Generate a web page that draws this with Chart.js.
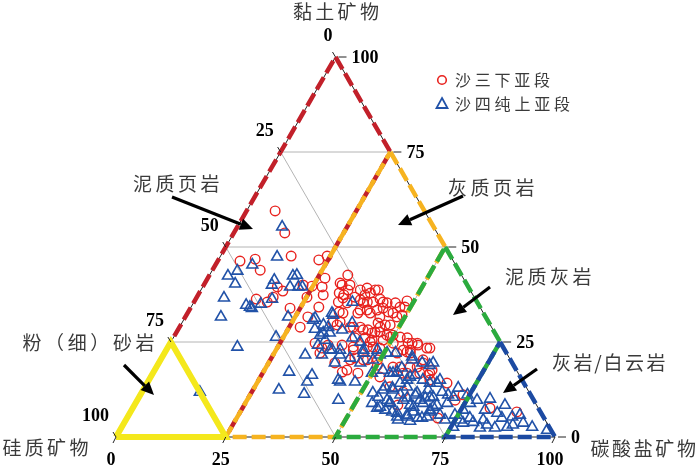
<!DOCTYPE html>
<html>
<head>
<meta charset="utf-8">
<script src="https://cdn.jsdelivr.net/npm/chart.js@4/dist/chart.umd.min.js"></script>
<style>
  body { margin: 0; background: #fff; }
  canvas { display: block; }
</style>
</head>
<body>
<canvas id="ternChart" width="700" height="475"></canvas>
<script>
// ternary values: clay % and carbonate % (silica = rest)
const redClay = [59.5, 53.7, 46.3, 46.8, 43.9, 47.6, 39.5, 38.4, 36.3, 35.5, 36.8, 46.6, 39.7, 34.2, 28.9, 41.8, 47.6, 33.9, 31.6, 22.1, 19.5, 24.2,
  42.6, 40.0, 40.0, 39.5, 37.4, 37.9, 37.4, 39.2, 37.9, 38.7, 38.7, 37.4, 36.1, 35.5, 35.5, 36.3, 35.5, 35.3, 35.3, 34.2, 35.8, 35.5, 35.3, 32.9, 32.6,
  33.4, 33.4, 33.4, 33.9, 32.9, 32.6, 32.1, 31.6, 30.0, 29.5, 29.5, 27.6, 27.6, 28.2, 28.9, 28.9, 26.1, 25.5, 25.5, 26.8, 30.3, 30.3, 26.1, 23.7, 23.7,
  23.4, 26.8, 26.3, 24.7, 26.1, 24.7, 24.7, 22.9, 22.1, 23.4, 22.1, 23.4, 24.7, 36.8, 40.0,
  24.2, 20.8, 20.3, 17.6, 17.1, 16.8, 23.7, 18.9, 22.9, 24.2, 20.3, 18.4, 18.4, 13.2, 8.4, 16.8, 15.8,
  23.4, 19.5, 17.6, 16.3, 14.2, 9.7, 11.1, 5.0, 7.6, 6.6,
  40.5, 38.7, 38.7, 36.6, 36.8, 35.3, 34.2, 32.6, 32.6, 31.6, 28.9, 27.4, 28.2, 25.0, 26.3, 24.7, 22.4, 22.9, 20.3, 20.3, 20.3,
  18.4, 16.8, 18.4, 16.8, 16.8, 11.8, 15.0, 29.5, 28.9];
const redCarb = [6.5, 11.6, 5.1, 8.3, 10.9, 16.1, 17.0, 18.8, 13.8, 16.7, 17.4, 22.9, 24.8, 29.1, 27.5, 26.7, 24.3, 22.7, 27.9, 35.4, 40.1, 36.2,
  31.5, 31.5, 33.3, 27.2, 28.5, 31.9, 33.2, 37.6, 39.0, 39.7, 40.4, 38.0, 37.6, 39.5, 40.8, 42.0, 43.1, 44.1, 46.0, 47.6, 48.4, 32.9, 35.0, 34.4, 35.4,
  38.9, 40.5, 42.8, 43.9, 45.6, 46.8, 49.1, 44.3, 44.7, 46.6, 47.7, 45.2, 46.3, 43.3, 41.2, 39.6, 43.7, 45.6, 48.1, 48.3, 35.9, 34.3, 41.4, 42.2, 45.4,
  48.4, 49.7, 51.6, 50.8, 53.3, 54.2, 56.3, 54.0, 56.0, 59.1, 53.0, 35.2, 33.0, 25.1, 22.6,
  39.4, 44.0, 47.1, 43.8, 43.0, 46.7, 46.7, 50.1, 55.6, 56.7, 59.8, 59.4, 55.5, 55.8, 60.0, 57.9, 52.2,
  59.8, 60.2, 63.2, 63.0, 68.3, 72.4, 73.5, 70.8, 81.4, 88.0,
  30.8, 33.5, 36.3, 33.4, 36.0, 38.7, 48.7, 38.8, 41.6, 48.2, 45.7, 44.6, 42.2, 45.4, 49.3, 55.1, 55.1, 42.6, 43.2, 46.2, 49.4,
  53.9, 57.0, 57.8, 60.8, 63.1, 59.5, 64.0, 35.6, 38.9];

const blueClay = [55.3, 47.4, 45.3, 43.7, 42.4, 40.3, 41.3, 40.0, 42.4, 42.6, 39.5, 39.5, 36.6, 34.7, 34.2, 33.9, 35.0, 36.3, 31.6, 31.6, 26.3, 23.7,
  31.3, 28.4, 17.1, 16.3, 11.3, 12.4, 14.5, 11.8, 24.2, 27.4, 28.9, 32.1, 21.6, 22.9, 39.5, 30.8, 29.5, 32.6, 35.5, 30.0, 28.2, 27.4, 26.8, 26.1,
  25.0, 22.9, 22.9, 22.1, 22.9, 22.1, 21.1, 25.5, 21.6, 21.6, 20.8, 14.5, 14.5, 19.5, 16.8, 21.6, 22.1, 16.8, 17.1, 15.0, 16.3, 15.0, 14.2,
  9.7, 8.9, 7.9, 10.5, 7.1, 6.6, 9.7, 5.3, 5.3, 6.6, 5.0, 5.3, 11.1, 10.3, 11.1, 9.7, 12.4, 8.4, 12.4, 12.9, 11.6,
  19.5, 14.2, 11.8, 10.5, 10.3, 8.9, 10.5, 12.9, 11.1, 9.7, 10.0, 8.9, 5.0, 7.1, 4.5, 5.8, 4.5, 3.7, 5.0, 3.9, 4.5, 3.2, 6.3, 5.0, 5.3, 5.8,
  3.2, 3.7, 2.6, 1.8, 2.6, 2.4, 2.4, 2.6, 4.5, 4.2, 7.6, 9.2, 6.6, 8.4, 15.0, 11.1,
  22.9, 19.5, 15.0, 20.3, 20.3, 19.5, 18.9, 17.6, 16.8, 18.2, 15.8, 14.2, 13.2, 12.4, 13.2, 11.6, 10.5, 8.9, 9.7, 7.9, 8.9, 7.9,
  6.3, 5.8, 7.1, 7.1, 8.4, 5.8];
const blueCarb = [10.2, 13.0, 8.4, 5.8, 4.3, 7.0, 15.4, 15.5, 19.1, 19.9, 21.8, 19.9, 6.3, 12.3, 13.4, 14.0, 15.5, 17.4, 8.1, 23.4, 23.3, 15.8,
  29.7, 31.1, 30.9, 36.5, 37.2, 30.9, 36.3, 13.2, 33.9, 33.5, 33.9, 33.4, 36.1, 37.8, 22.7, 29.5, 32.5, 32.9, 36.1, 38.8, 37.4, 35.0, 33.1, 40.8,
  43.1, 37.3, 39.6, 45.3, 48.1, 50.7, 56.9, 34.9, 32.3, 40.2, 42.9, 43.8, 47.2, 45.9, 49.9, 49.3, 52.6, 54.0, 55.5, 58.8, 60.0, 62.4, 57.6,
  45.8, 53.9, 56.2, 54.5, 57.8, 59.6, 56.9, 61.4, 63.7, 64.4, 66.3, 68.2, 59.2, 61.2, 62.6, 64.4, 64.9, 62.8, 54.6, 56.5, 52.7,
  62.5, 66.0, 68.4, 67.0, 65.3, 71.0, 71.6, 71.5, 74.5, 77.4, 80.2, 76.2, 67.2, 68.0, 72.7, 74.3, 76.2, 77.2, 78.1, 79.4, 81.4, 82.9, 83.7, 85.4, 87.6, 89.1,
  88.8, 90.9, 93.5, 97.3, 87.8, 85.1, 81.7, 75.5, 62.0, 64.9, 55.7, 57.8, 68.2, 68.9, 66.3, 70.1,
  44.9, 40.1, 43.1, 48.4, 57.3, 60.0, 62.0, 52.0, 54.7, 56.0, 59.1, 64.4, 54.7, 56.9, 59.7, 62.8, 66.3, 58.0, 60.6, 63.8, 65.5, 68.3,
  60.9, 63.4, 75.5, 80.5, 84.4, 70.9];

// rock-type fields as [clay, carbonate] corners
const fieldClayShale = [[100, 0], [75, 25], [0, 25], [0, 0]];
const fieldLimyShale = [[75, 25], [50, 50], [0, 50], [0, 25]];
const fieldMarl = [[50, 50], [25, 75], [0, 75], [0, 50]];
const fieldLimestone = [[25, 75], [0, 100], [0, 75]];
const fieldSiltstone = [[0, 0], [0, 25], [25, 0]];

const tickValues = [0, 25, 50, 75, 100];
const gridValues = [25, 50, 75];

// clay goes up, carbonate goes right
function tern(clay, carb) {
  return { x: carb + clay / 2, y: clay };
}

function polygon(corners) {
  const pts = corners.map(c => tern(c[0], c[1]));
  pts.push(pts[0]);
  return pts;
}

function lineSet(pts, color, width, dash, order) {
  return {
    data: pts,
    showLine: true,
    borderColor: color,
    borderWidth: width,
    borderDash: dash,
    pointRadius: 0,
    pointHoverRadius: 0,
    fill: false,
    clip: false,
    order: order
  };
}

const datasets = [];

gridValues.forEach(v => {
  datasets.push(lineSet([tern(v, 0), tern(v, 100 - v)], '#b4b4b4', 1, [], 200));
  datasets.push(lineSet([tern(0, v), tern(100 - v, v)], '#b4b4b4', 1, [], 200));
  datasets.push(lineSet([tern(100 - v, 0), tern(0, 100 - v)], '#b4b4b4', 1, [], 200));
});

datasets.push({
  label: '沙三下亚段',
  data: redClay.map((c, i) => tern(c, redCarb[i])),
  pointStyle: 'circle',
  pointRadius: 4.8,
  pointBorderWidth: 1.4,
  pointBorderColor: '#e8231f',
  pointBackgroundColor: 'rgba(0,0,0,0)',
  showLine: false,
  clip: false,
  order: 150
});
datasets.push({
  label: '沙四纯上亚段',
  data: blueClay.map((c, i) => tern(c, blueCarb[i])),
  pointStyle: 'triangle',
  pointRadius: 6.3,
  pointBorderWidth: 1.6,
  pointBorderColor: '#2152a8',
  pointBackgroundColor: 'rgba(0,0,0,0)',
  showLine: false,
  clip: false,
  order: 140
});

datasets.push(lineSet(polygon([[100, 0], [0, 100], [0, 0]]), '#222', 1, [], 120));
datasets.push(lineSet(polygon(fieldClayShale), '#c2202a', 4.5, [14, 5], 100));
datasets.push(lineSet(polygon(fieldLimyShale), '#f6b320', 4.5, [14, 5], 90));
datasets.push(lineSet(polygon(fieldMarl), '#2bab3e', 4.5, [14, 5], 80));
datasets.push(lineSet(polygon(fieldLimestone), '#1c4aa2', 4.5, [14, 5], 70));
datasets.push(lineSet(polygon(fieldSiltstone), '#f4e81c', 6, [], 60));

function spaced(ctx, text, x0, y, step) {
  [...text].forEach((ch, i) => ctx.fillText(ch, x0 + i * step, y));
}

function arrow(ctx, x1, y1, x2, y2) {
  const a = Math.atan2(y2 - y1, x2 - x1);
  const head = 13, half = 6;
  const bx = x2 - head * Math.cos(a), by = y2 - head * Math.sin(a);
  ctx.strokeStyle = '#000';
  ctx.fillStyle = '#000';
  ctx.lineWidth = 3.2;
  ctx.beginPath();
  ctx.moveTo(x1, y1);
  ctx.lineTo(bx, by);
  ctx.stroke();
  ctx.beginPath();
  ctx.moveTo(x2, y2);
  ctx.lineTo(bx + half * Math.sin(a), by - half * Math.cos(a));
  ctx.lineTo(bx - half * Math.sin(a), by + half * Math.cos(a));
  ctx.closePath();
  ctx.fill();
}

const decorations = {
  id: 'decorations',
  afterDatasetsDraw(chart) {
    const ctx = chart.ctx;
    const sx = chart.scales.x, sy = chart.scales.y;
    const px = p => [sx.getPixelForValue(p.x), sy.getPixelForValue(p.y)];
    ctx.save();

    // ticks and tick labels
    ctx.strokeStyle = '#222';
    ctx.lineWidth = 1;
    ctx.fillStyle = '#000';
    ctx.font = 'bold 18px "Liberation Serif", serif';
    ctx.textBaseline = 'middle';
    tickValues.forEach(v => {
      // silica, left edge
      let [x, y] = px(tern(100 - v, 0));
      ctx.beginPath(); ctx.moveTo(x, y); ctx.lineTo(x - 3, y - 5); ctx.stroke();
      ctx.textAlign = 'right';
      ctx.fillText(String(v), v === 0 ? x - 3 : x - 7, y - 21);
      // clay, right edge
      [x, y] = px(tern(v, 100 - v));
      ctx.beginPath(); ctx.moveTo(x + 3, y); ctx.lineTo(x + 11, y); ctx.stroke();
      ctx.textAlign = 'left';
      ctx.fillText(String(v), x + 16, y + 1);
      // carbonate, bottom edge
      [x, y] = px(tern(0, v));
      ctx.beginPath(); ctx.moveTo(x, y); ctx.lineTo(x - 3, y + 6); ctx.stroke();
      ctx.textAlign = 'center';
      ctx.fillText(String(v), x - 5, y + 23);
    });

    // axis titles and field names
    ctx.fillStyle = '#3a3a3a';
    ctx.font = '19px "Noto Sans CJK SC", sans-serif';
    ctx.textAlign = 'center';
    spaced(ctx, '黏土矿物', 302.5, 12, 22.3);
    spaced(ctx, '硅质矿物', 12, 448, 22.3);
    spaced(ctx, '碳酸盐矿物', 600, 449, 21.6);
    spaced(ctx, '泥质页岩', 142.5, 184, 22.5);
    spaced(ctx, '灰质页岩', 457.5, 188, 22.5);
    spaced(ctx, '泥质灰岩', 514.5, 277, 22.5);
    spaced(ctx, '粉（细）砂岩', 32, 343, 22.6);
    spaced(ctx, '灰岩', 561.5, 363, 21.5);
    ctx.fillText('/', 598, 363);
    spaced(ctx, '白云岩', 613, 363, 21.5);

    // arrows pointing into each field
    arrow(ctx, 172, 197, 253, 229);
    arrow(ctx, 463, 196, 398, 225);
    arrow(ctx, 490, 287, 453, 315);
    arrow(ctx, 124, 365, 154, 395);
    arrow(ctx, 537, 369, 503, 393);

    // legend
    ctx.lineWidth = 1.6;
    ctx.strokeStyle = '#e8231f';
    ctx.beginPath(); ctx.arc(442, 80, 4.3, 0, Math.PI * 2); ctx.stroke();
    ctx.strokeStyle = '#2152a8';
    ctx.lineWidth = 1.8;
    ctx.beginPath();
    ctx.moveTo(442, 98); ctx.lineTo(447.5, 108); ctx.lineTo(436.5, 108); ctx.closePath();
    ctx.stroke();
    ctx.fillStyle = '#3a3a3a';
    ctx.font = '16px "Noto Sans CJK SC", sans-serif';
    spaced(ctx, '沙三下亚段', 463, 80, 19.75);
    spaced(ctx, '沙四纯上亚段', 463, 104, 19.8);

    ctx.restore();
  }
};

new Chart(document.getElementById('ternChart').getContext('2d'), {
  type: 'scatter',
  data: { datasets: datasets },
  options: {
    responsive: false,
    animation: false,
    layout: { padding: { left: 116, right: 145, top: 57, bottom: 38 } },
    scales: {
      x: { type: 'linear', min: 0, max: 100, display: false },
      y: { type: 'linear', min: 0, max: 100, display: false }
    },
    plugins: {
      legend: { display: false },
      tooltip: { enabled: false }
    },
    elements: { line: { tension: 0 } }
  },
  plugins: [decorations]
});
</script>
</body>
</html>
